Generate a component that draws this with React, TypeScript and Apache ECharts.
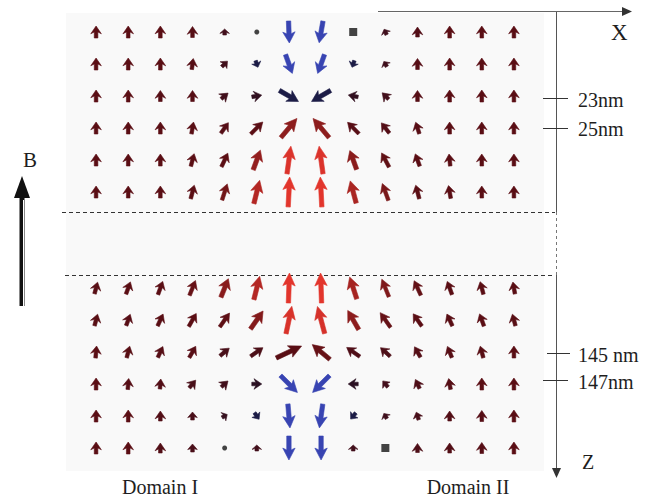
import React, { useEffect, useRef } from "react";
import * as echarts from "echarts";

// Column index 0..13, rows: top layer rows 0..5, bottom layer rows 8..13
const columns = [0, 1, 2, 3, 4, 5, 6, 7, 8, 9, 10, 11, 12, 13];
const topRows = [0, 1, 2, 3, 4, 5];
const bottomRows = [8, 9, 10, 11, 12, 13];

// Arrow direction in degrees, clockwise from "up" (null = marker instead of arrow)
const topAngles: (number | null)[][] = [
  [0, 0, 0, 0, 0, null, 178, 190, null, -25, 0, 0, 0, 0],
  [0, 0, 0, 8, 45, 160, 160, 200, 200, -30, 0, 0, 0, 0],
  [0, 0, 0, 0, 50, 80, 120, -120, -78, -45, 0, 0, 0, 0],
  [0, 0, 0, 10, 35, 45, 40, -40, -45, -38, -18, 0, 0, 0],
  [0, 0, 0, 15, 25, 20, 8, -8, -20, -28, -20, -6, 0, 0],
  [0, 0, 0, 15, 18, 14, 3, -3, -15, -20, -15, -10, 0, 0],
];
// Arrow length (projected in-plane magnitude)
const topLengths: number[][] = [
  [12, 12, 12, 11, 6, 0, 22, 22, 0, 6, 10, 12, 12, 12],
  [12, 12, 12, 11, 8, 7, 20, 20, 7, 6, 11, 12, 12, 12],
  [12, 12, 11, 11, 9, 10, 22, 22, 10, 9, 11, 12, 12, 12],
  [12, 12, 12, 12, 13, 17, 25, 25, 16, 13, 12, 12, 12, 12],
  [12, 12, 12, 13, 15, 21, 28, 28, 20, 16, 13, 12, 12, 12],
  [12, 12, 12, 14, 17, 24, 30, 30, 23, 18, 14, 13, 12, 12],
];
const bottomAngles: (number | null)[][] = [
  [15, 20, 20, 22, 22, 14, 2, -2, -18, -22, -25, -20, -15, -10],
  [15, 20, 25, 30, 35, 35, 12, -15, -30, -35, -35, -25, -20, -15],
  [5, 15, 25, 30, 50, 55, 65, -50, -55, -48, -30, -22, -15, 0],
  [0, 5, 5, 40, 48, 90, 135, -135, -90, -40, -25, -10, 0, 0],
  [0, 0, 0, 0, 60, 145, 175, 188, 220, -30, -18, 0, 0, 0],
  [0, 0, 0, 0, null, 0, 180, 180, 0, null, 0, 0, 0, 0],
];
const bottomLengths: number[][] = [
  [12, 13, 14, 16, 20, 24, 30, 30, 23, 19, 16, 14, 13, 12],
  [12, 12, 13, 15, 17, 22, 28, 28, 22, 18, 15, 13, 13, 12],
  [12, 12, 12, 13, 12, 15, 28, 23, 16, 13, 12, 12, 12, 12],
  [12, 11, 10, 10, 9, 10, 24, 24, 10, 8, 10, 11, 12, 12],
  [12, 12, 10, 8, 6, 8, 24, 24, 8, 6, 8, 10, 11, 12],
  [12, 12, 10, 8, 0, 6, 24, 24, 6, 0, 9, 10, 11, 12],
];
// out-of-plane markers: [column, row]
const dotCells = [[5, 0], [4, 13]];
const squareCells = [[8, 0], [9, 13]];

const tickLabels = ["23nm", "25nm", "145 nm", "147nm"];
const domainLabels = ["Domain I", "Domain II"];

function hexToRgb(h: string) {
  const n = parseInt(h.slice(1), 16);
  return [(n >> 16) & 255, (n >> 8) & 255, n & 255];
}
function mix(a: string, b: string, t: number) {
  const A = hexToRgb(a), B = hexToRgb(b);
  const c = A.map((v, i) => Math.round(v + (B[i] - v) * Math.max(0, Math.min(1, t))));
  return `rgb(${c[0]},${c[1]},${c[2]})`;
}
function arrowColor(angleDeg: number, len: number) {
  const v = (Math.cos((angleDeg * Math.PI) / 180) * len) / 30;
  if (v <= 0) return mix("#1c1c46", "#3844b2", (-v - 0.38) / 0.18);
  if (v < 0.45) return mix("#2a1022", "#5a0e14", v / 0.4);
  return mix("#5a0e14", "#e2352c", (v - 0.45) / 0.5);
}

function buildArrowData() {
  const out: number[][] = [];
  const add = (angles: (number | null)[][], lens: number[][], rows: number[]) => {
    rows.forEach((r, i) => {
      columns.forEach((c, j) => {
        const a = angles[i][j];
        if (a === null) return;
        out.push([c, r, a, lens[i][j]]);
      });
    });
  };
  add(topAngles, topLengths, topRows);
  add(bottomAngles, bottomLengths, bottomRows);
  return out;
}

export default function App() {
  const ref = useRef<HTMLDivElement>(null);
  useEffect(() => {
    document.body.style.margin = "0";
    const chart = echarts.init(ref.current!, null, { renderer: "svg" });
    const serif = "'Liberation Serif', 'DejaVu Serif', serif";
    const txt = (text: string, x: number, y: number, size: number, align = "left") => ({
      type: "text",
      x,
      y,
      style: { text, fill: "#1e1e1e", font: `${size}px ${serif}`, textAlign: align, textVerticalAlign: "middle" },
    });
    const ln = (x1: number, y1: number, x2: number, y2: number, stroke: string, dash?: number[]) => ({
      type: "line",
      shape: { x1, y1, x2, y2 },
      style: { stroke, lineWidth: 1, lineDash: dash },
    });

    chart.setOption({
      animation: false,
      grid: { left: 80, top: 16, width: 450, height: 448 },
      xAxis: { type: "value", min: -0.5, max: 13.5, show: false },
      yAxis: { type: "value", min: -0.5, max: 13.5, inverse: true, show: false },
      graphic: [
        { type: "rect", shape: { x: 66, y: 13, width: 478, height: 458 }, style: { fill: "#f9f9f9" }, z: -10 },
        ln(62, 212.5, 555, 212.5, "#333", [4, 3]),
        ln(65, 275.5, 555, 275.5, "#333", [4, 3]),
        ln(556.5, 11, 556.5, 212, "#555"),
        ln(556.5, 212, 556.5, 275, "#777", [3, 3]),
        ln(556.5, 275, 556.5, 470, "#555"),
        { type: "polygon", shape: { points: [[552, 468], [561, 468], [556.5, 478]] }, style: { fill: "#333" } },
        ln(378, 11.5, 624, 11.5, "#666"),
        { type: "polygon", shape: { points: [[622, 7], [632, 11.5], [622, 16]] }, style: { fill: "#333" } },
        ln(543, 98.5, 568, 98.5, "#333"),
        ln(543, 128.5, 568, 128.5, "#333"),
        ln(547, 353.5, 570, 353.5, "#333"),
        ln(543, 380.5, 568, 380.5, "#333"),
        txt(tickLabels[0], 578, 100, 20),
        txt(tickLabels[1], 578, 129, 20),
        txt(tickLabels[2], 578, 355, 20),
        txt(tickLabels[3], 578, 382, 20),
        txt("X", 611, 32, 23),
        txt("Z", 582, 462, 20),
        txt("B", 30, 160, 21, "center"),
        { type: "rect", shape: { x: 19.5, y: 195, width: 5, height: 111 }, style: { fill: "#111" } },
        ln(23.5, 200, 23.5, 306, "#fff"),
        { type: "polygon", shape: { points: [[14, 198], [30, 198], [22, 176]] }, style: { fill: "#111" } },
        txt(domainLabels[0], 160, 487, 20, "center"),
        txt(domainLabels[1], 468, 487, 20, "center"),
      ],
      series: [
        {
          type: "custom",
          data: buildArrowData(),
          encode: { x: 0, y: 1 },
          renderItem: (params: any, api: any) => {
            const c = api.coord([api.value(0), api.value(1)]);
            const angDeg = api.value(2) as number;
            const L = api.value(3) as number;
            const ang = (angDeg * Math.PI) / 180;
            const dx = Math.sin(ang), dy = -Math.cos(ang);
            const px = -dy, py = dx;
            const small = L <= 8;
            const h = small ? L * 0.6 : Math.min(11, Math.max(6, L * 0.42));
            const w = small ? 4.8 : L >= 20 ? 6.2 : 5.3;
            const s = L >= 20 ? 2.2 : 1.8;
            const barb = small ? 0.8 : 1.8;
            const tail = [c[0] - (dx * L) / 2, c[1] - (dy * L) / 2];
            const tip = [c[0] + (dx * L) / 2, c[1] + (dy * L) / 2];
            const neck = [tip[0] - dx * h, tip[1] - dy * h];
            const back = [neck[0] - dx * barb, neck[1] - dy * barb];
            const points = [
              [tail[0] + px * s, tail[1] + py * s],
              [neck[0] + px * s, neck[1] + py * s],
              [back[0] + px * w, back[1] + py * w],
              tip,
              [back[0] - px * w, back[1] - py * w],
              [neck[0] - px * s, neck[1] - py * s],
              [tail[0] - px * s, tail[1] - py * s],
            ];
            const col = arrowColor(angDeg, L);
            return {
              type: "polygon",
              shape: { points },
              style: { fill: col, stroke: col, lineWidth: 0.6, lineJoin: "round" },
            };
          },
        },
        {
          type: "scatter",
          data: dotCells,
          symbol: "circle",
          symbolSize: 5,
          itemStyle: { color: "#151515" },
        },
        {
          type: "scatter",
          data: squareCells,
          symbol: "rect",
          symbolSize: 8,
          itemStyle: { color: "#151515" },
        },
      ],
    });
    return () => chart.dispose();
  }, []);
  return <div ref={ref} style={{ width: 661, height: 500 }} />;
}
